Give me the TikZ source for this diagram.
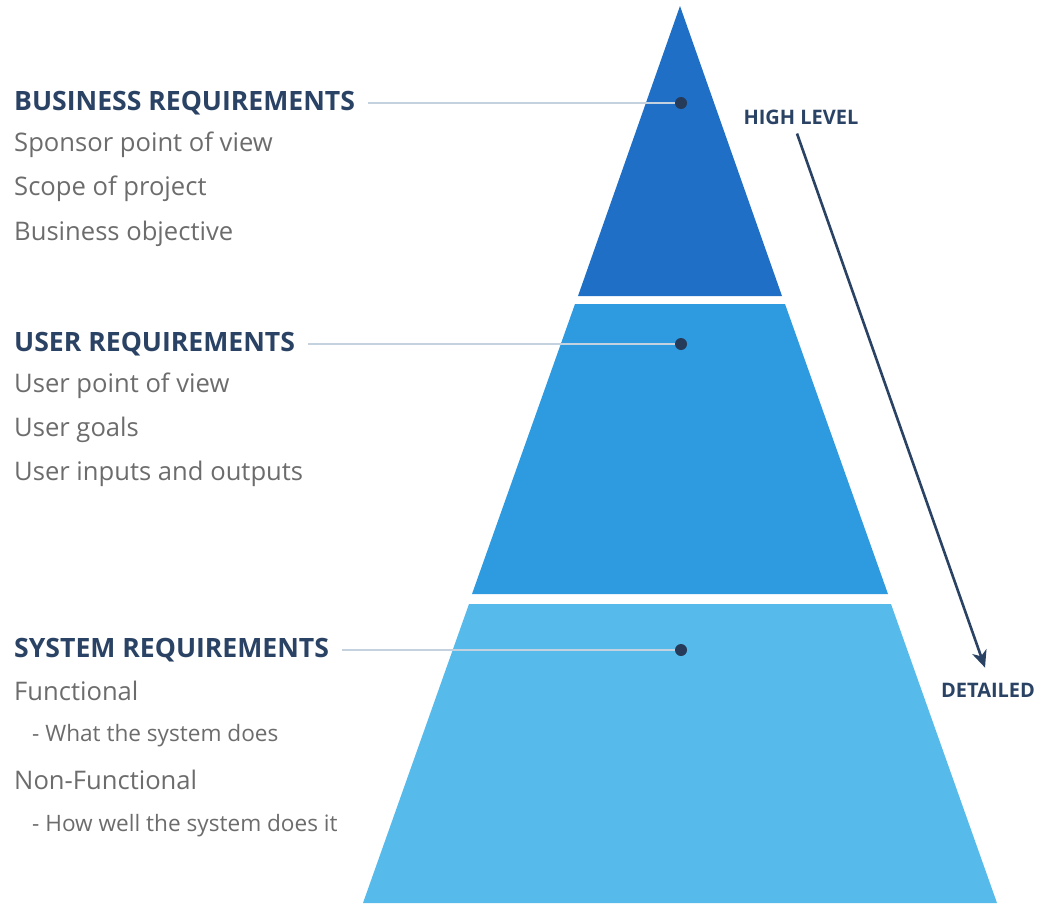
\documentclass[tikz,border=0pt]{standalone}
\usepackage{fontspec}
\setmainfont{Open Sans}
\usetikzlibrary{arrows.meta}

\definecolor{bandA}{RGB}{30,111,197}
\definecolor{bandB}{RGB}{46,154,224}
\definecolor{bandC}{RGB}{86,187,235}
\definecolor{navy}{RGB}{42,66,100}
\definecolor{greytxt}{RGB}{108,108,108}
\definecolor{leader}{RGB}{196,210,224}

\tikzset{
  head/.style={anchor=west, inner sep=0pt, text=navy, font=\fontsize{26.6}{30}\selectfont\bfseries},
  item/.style={anchor=west, inner sep=0pt, text=greytxt, font=\fontsize{25.6}{30}\selectfont},
  subitem/.style={anchor=west, inner sep=0pt, text=greytxt, font=\fontsize{22.6}{26}\selectfont},
  tag/.style={inner sep=2pt, text=navy, font=\fontsize{20}{24}\selectfont\bfseries},
  dot/.style={circle, fill=navy!90!black, inner sep=0pt, minimum size=12pt},
  lead/.style={draw=leader, line width=1.3pt},
}

\begin{document}
\begin{tikzpicture}[x=1pt,y=1pt,yscale=-1]
\useasboundingbox (0,0) rectangle (1039,905);

% pyramid bands
\fill [bandA] (680,6) -- (782,296) -- (578,296) -- cycle ;
\fill [bandB] (575,304) -- (785,304) -- (888,594) -- (472,594) -- cycle ;
\fill [bandC] (469,604) -- (891,604) -- (997,903) -- (363,903) -- cycle ;

% dots
\node [dot] (dA) at (681,103) {};
\node [dot] (dB) at (681,344) {};
\node [dot] (dC) at (681,650) {};

% Text Node
\node [head] (hA) at (14,103) {BUSINESS REQUIREMENTS};
\node [item] (iA1) at (14,145) {Sponsor point of view};
\node [item] (iA2) at (14,189) {Scope of project};
\node [item] (iA3) at (14,234) {Business objective};
% Text Node
\node [head] (hB) at (14,344) {USER REQUIREMENTS};
\node [item] (iB1) at (14,386) {User point of view};
\node [item] (iB2) at (14,430) {User goals};
\node [item] (iB3) at (14,474) {User inputs and outputs};
% Text Node
\node [head] (hC) at (14,650) {SYSTEM REQUIREMENTS};
\node [item] (iC1) at (14,691) {Functional};
\node [subitem] (iC2) at (32,736) {- What the system does};
\node [item] (iC3) at (14,780) {Non-Functional};
\node [subitem] (iC4) at (32,826) {- How well the system does it};

% leader lines
\draw [lead] ([xshift=13pt]hA.east) -- (dA.west) ;
\draw [lead] ([xshift=13pt]hB.east) -- (dB.west) ;
\draw [lead] ([xshift=13pt]hC.east) -- (dC.west) ;

% level arrow
\node [tag] (hl) at (801,117) {HIGH LEVEL};
\node [tag] (det) at (988,690) {DETAILED};
\draw [navy, line width=2.6pt, -{Stealth[length=17pt,width=15pt,inset=5pt]}] ([xshift=-4pt,yshift=7pt]hl.south) -- ([xshift=-3pt,yshift=-13pt]det.north) ;

\end{tikzpicture}
\end{document}
